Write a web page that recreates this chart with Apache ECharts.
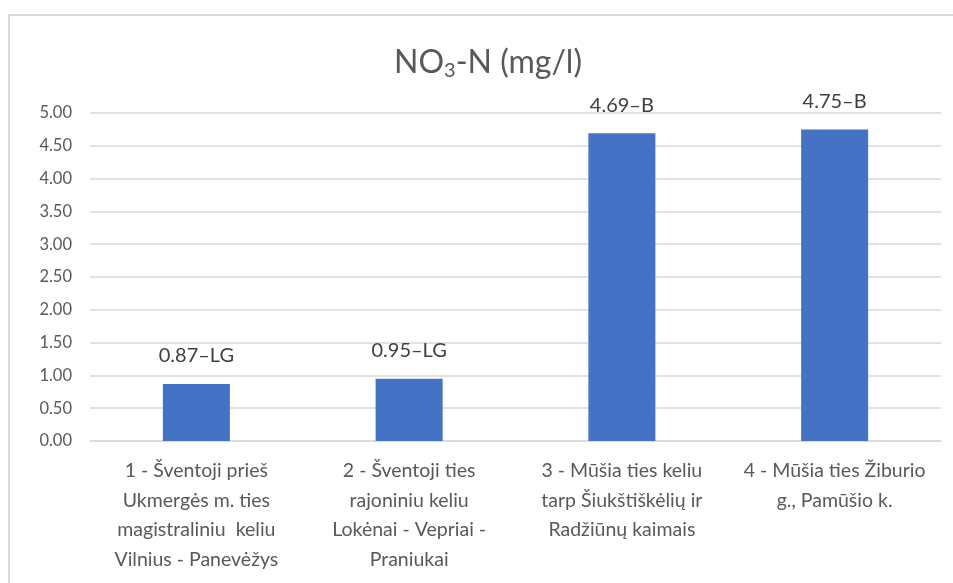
<!DOCTYPE html>
<html><head><meta charset="utf-8">
<script src="https://cdn.jsdelivr.net/npm/echarts@6/dist/echarts.min.js"></script>
<style>html,body{margin:0;padding:0;background:#fff}#c{width:953px;height:583px}</style>
</head><body><div id="c"></div>
<script>
const categories = [
  '1 - Šventoji prieš\nUkmergės m. ties\nmagistraliniu  keliu\nVilnius - Panevėžys',
  '2 - Šventoji ties\nrajoniniu keliu\nLokėnai - Vepriai -\nPraniukai',
  '3 - Mūšia ties keliu\ntarp Šiukštiškėlių ir\nRadžiūnų kaimais',
  '4 - Mūšia ties Žiburio\ng., Pamūšio k.'
];
const values = [0.87, 0.95, 4.69, 4.75];
const classes = ['LG', 'LG', 'B', 'B'];
const yTicks = [0, 0.5, 1, 1.5, 2, 2.5, 3, 3.5, 4, 4.5, 5];

const font = 'Lato, "Open Sans", sans-serif';
const chart = echarts.init(document.getElementById('c'));
chart.setOption({
  animation: false,
  graphic: [{
    type: 'rect', shape: {x: 9, y: 15, width: 1000, height: 700},
    style: {fill: 'none', stroke: '#d9d9d9', lineWidth: 2}, silent: true
  }],
  title: {
    text: '{a|NO}{s|3}{a|-N (mg/l)}',
    left: 389, top: 39,
    textStyle: {
      fontWeight: 'normal',
      rich: {
        a: {fontSize: 32, color: '#595959', fontFamily: font, fontWeight: 'normal'},
        s: {fontSize: 20, color: '#595959', fontFamily: font, fontWeight: 'normal', padding: [17, 0, 0, 0]}
      }
    }
  },
  grid: {left: 90, right: 12, top: 113, bottom: 142, containLabel: false},
  xAxis: {
    type: 'category', data: categories,
    axisTick: {show: false},
    axisLine: {lineStyle: {color: '#d9d9d9', width: 1.5}},
    axisLabel: {color: '#595959', fontSize: 19.5, fontFamily: font, lineHeight: 29.5, margin: 15, interval: 0}
  },
  yAxis: {
    type: 'value', min: yTicks[0], max: yTicks[yTicks.length - 1], interval: 0.5,
    axisLine: {show: false}, axisTick: {show: false},
    splitLine: {lineStyle: {color: '#d9d9d9', width: 1.5}},
    axisLabel: {color: '#595959', fontSize: 16.5, fontFamily: font, margin: 18,
      formatter: v => v.toFixed(2)}
  },
  series: [{
    type: 'bar', data: values, barWidth: 67,
    itemStyle: {color: '#4472c4'},
    label: {
      show: true, position: 'top', distance: 18,
      color: '#404040', fontSize: 20, fontFamily: font,
      formatter: p => p.value.toFixed(2) + '–' + classes[p.dataIndex]
    }
  }]
});
</script></body></html>
